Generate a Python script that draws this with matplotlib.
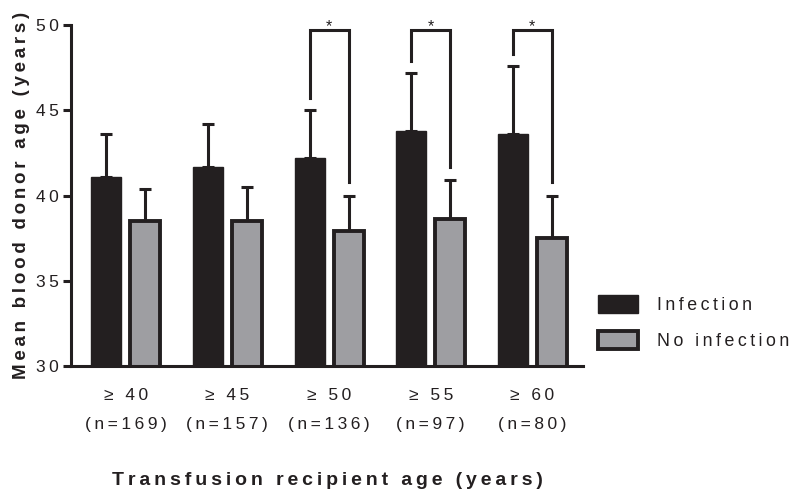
import matplotlib
matplotlib.use("Agg")
import matplotlib.pyplot as plt
import numpy as np

plt.rcParams["font.family"] = ["Liberation Sans", "DejaVu Sans"]

groups = ["\u2265 40", "\u2265 45", "\u2265 50", "\u2265 55", "\u2265 60"]
counts = [169, 157, 136, 97, 80]
infection = [41.1, 41.7, 42.2, 43.8, 43.6]
infection_err = [2.5, 2.5, 2.8, 3.4, 4.0]
no_infection = [38.5, 38.5, 37.9, 38.6, 37.5]
no_infection_err = [1.9, 2.0, 2.1, 2.3, 2.5]
significant = [2, 3, 4]

ink = "#231f20"
gray = "#9e9ea2"

def spaced(s):
    # mimic the wide letter spacing of the original
    return "\u2009".join(s)

x = np.arange(len(groups))
off = 0.192
w = 0.295

fig = plt.figure(figsize=(8, 4.92), dpi=100)
ax = fig.add_axes([0.089, 0.256, 0.64, 0.693])

ekw = dict(ecolor=ink, elinewidth=2.2, capsize=4.5, capthick=2.2, zorder=1)
ax.bar(x - off, infection, w, color=ink, edgecolor=ink, linewidth=1,
       yerr=[[0] * len(x), infection_err], error_kw=ekw,
       label=spaced("Infection"), zorder=2)
ax.bar(x + off, no_infection, w, color=gray, edgecolor=ink, linewidth=2.8,
       yerr=[[0] * len(x), no_infection_err], error_kw=ekw,
       label=spaced("No infection"), zorder=2)

# significance brackets
top = 49.7
for i in significant:
    y1 = infection[i] + infection_err[i] + 0.7
    y2 = no_infection[i] + no_infection_err[i] + 0.8
    ax.plot([x[i] - off, x[i] - off, x[i] + off, x[i] + off], [y1, top, top, y2],
            color=ink, lw=2.2, clip_on=False, solid_joinstyle="miter", zorder=3)
    ax.text(x[i], top - 0.25, "*", ha="center", va="bottom", fontsize=11.5, color=ink)

ax.set_ylim(30, 50)
ax.set_xlim(-0.536, 4.5)
ax.set_yticks([30, 35, 40, 45, 50])
ax.set_yticklabels([spaced(str(v)) for v in [30, 35, 40, 45, 50]])
ax.set_xticks(x)
ax.set_xticklabels([spaced(g) + "\n" + spaced("(n=%d)" % n) for g, n in zip(groups, counts)],
                   linespacing=2.15)

for s in ["top", "right"]:
    ax.spines[s].set_visible(False)
for s in ["left", "bottom"]:
    ax.spines[s].set_linewidth(2.2)
    ax.spines[s].set_color(ink)

ax.tick_params(axis="y", direction="out", length=6, width=2.2, color=ink, labelsize=12.5, labelcolor=ink, pad=3)
ax.tick_params(axis="x", length=0, labelsize=12.5, labelcolor=ink, pad=16)

ax.set_ylabel(spaced("Mean blood donor age (years)"), fontsize=13.5, fontweight="bold", color=ink, labelpad=4)
ax.set_xlabel(spaced("Transfusion recipient age (years)"), fontsize=14, fontweight="bold", color=ink, labelpad=29)

leg = ax.legend(loc="upper left", bbox_to_anchor=(0.739, 0.415), bbox_transform=fig.transFigure,
                frameon=False, fontsize=12.8, handlelength=2.25, handleheight=1.2,
                handletextpad=1.05, labelspacing=0.95, borderaxespad=0)
for t in leg.get_texts():
    t.set_color(ink)

fig.savefig("out.png", dpi=100)
